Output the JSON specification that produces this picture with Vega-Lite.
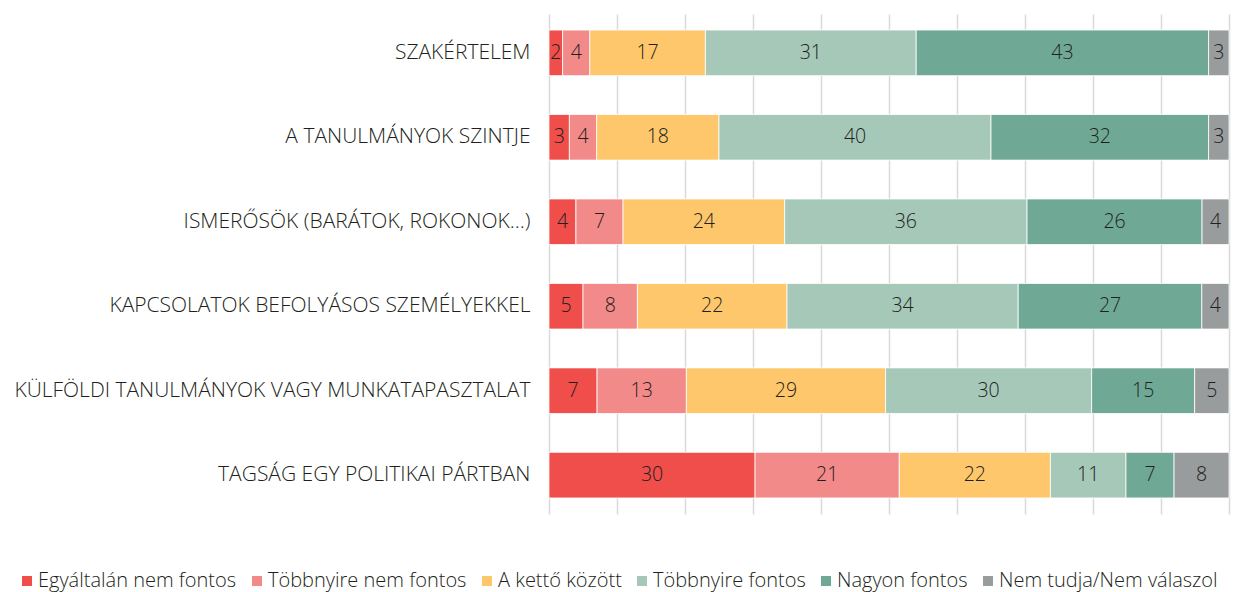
{
  "$schema": "https://vega.github.io/schema/vega-lite/v6.json",
  "width": 680,
  "height": 500,
  "autosize": {"type": "none"},
  "padding": {"left": 549, "top": 14, "right": 16, "bottom": 78},
  "background": "white",
  "config": {"view": {"stroke": null}, "font": "Open Sans"},
  "data": {"values": [
    {"cat": "SZAKÉRTELEM", "resp": "Egyáltalán nem fontos", "k": 1, "value": 2},
    {"cat": "SZAKÉRTELEM", "resp": "Többnyire nem fontos", "k": 2, "value": 4},
    {"cat": "SZAKÉRTELEM", "resp": "A kettő között", "k": 3, "value": 17},
    {"cat": "SZAKÉRTELEM", "resp": "Többnyire fontos", "k": 4, "value": 31},
    {"cat": "SZAKÉRTELEM", "resp": "Nagyon fontos", "k": 5, "value": 43},
    {"cat": "SZAKÉRTELEM", "resp": "Nem tudja/Nem válaszol", "k": 6, "value": 3},
    {"cat": "A TANULMÁNYOK SZINTJE", "resp": "Egyáltalán nem fontos", "k": 1, "value": 3},
    {"cat": "A TANULMÁNYOK SZINTJE", "resp": "Többnyire nem fontos", "k": 2, "value": 4},
    {"cat": "A TANULMÁNYOK SZINTJE", "resp": "A kettő között", "k": 3, "value": 18},
    {"cat": "A TANULMÁNYOK SZINTJE", "resp": "Többnyire fontos", "k": 4, "value": 40},
    {"cat": "A TANULMÁNYOK SZINTJE", "resp": "Nagyon fontos", "k": 5, "value": 32},
    {"cat": "A TANULMÁNYOK SZINTJE", "resp": "Nem tudja/Nem válaszol", "k": 6, "value": 3},
    {"cat": "ISMERŐSÖK (BARÁTOK, ROKONOK…)", "resp": "Egyáltalán nem fontos", "k": 1, "value": 4},
    {"cat": "ISMERŐSÖK (BARÁTOK, ROKONOK…)", "resp": "Többnyire nem fontos", "k": 2, "value": 7},
    {"cat": "ISMERŐSÖK (BARÁTOK, ROKONOK…)", "resp": "A kettő között", "k": 3, "value": 24},
    {"cat": "ISMERŐSÖK (BARÁTOK, ROKONOK…)", "resp": "Többnyire fontos", "k": 4, "value": 36},
    {"cat": "ISMERŐSÖK (BARÁTOK, ROKONOK…)", "resp": "Nagyon fontos", "k": 5, "value": 26},
    {"cat": "ISMERŐSÖK (BARÁTOK, ROKONOK…)", "resp": "Nem tudja/Nem válaszol", "k": 6, "value": 4},
    {"cat": "KAPCSOLATOK BEFOLYÁSOS SZEMÉLYEKKEL", "resp": "Egyáltalán nem fontos", "k": 1, "value": 5},
    {"cat": "KAPCSOLATOK BEFOLYÁSOS SZEMÉLYEKKEL", "resp": "Többnyire nem fontos", "k": 2, "value": 8},
    {"cat": "KAPCSOLATOK BEFOLYÁSOS SZEMÉLYEKKEL", "resp": "A kettő között", "k": 3, "value": 22},
    {"cat": "KAPCSOLATOK BEFOLYÁSOS SZEMÉLYEKKEL", "resp": "Többnyire fontos", "k": 4, "value": 34},
    {"cat": "KAPCSOLATOK BEFOLYÁSOS SZEMÉLYEKKEL", "resp": "Nagyon fontos", "k": 5, "value": 27},
    {"cat": "KAPCSOLATOK BEFOLYÁSOS SZEMÉLYEKKEL", "resp": "Nem tudja/Nem válaszol", "k": 6, "value": 4},
    {"cat": "KÜLFÖLDI TANULMÁNYOK VAGY MUNKATAPASZTALAT", "resp": "Egyáltalán nem fontos", "k": 1, "value": 7},
    {"cat": "KÜLFÖLDI TANULMÁNYOK VAGY MUNKATAPASZTALAT", "resp": "Többnyire nem fontos", "k": 2, "value": 13},
    {"cat": "KÜLFÖLDI TANULMÁNYOK VAGY MUNKATAPASZTALAT", "resp": "A kettő között", "k": 3, "value": 29},
    {"cat": "KÜLFÖLDI TANULMÁNYOK VAGY MUNKATAPASZTALAT", "resp": "Többnyire fontos", "k": 4, "value": 30},
    {"cat": "KÜLFÖLDI TANULMÁNYOK VAGY MUNKATAPASZTALAT", "resp": "Nagyon fontos", "k": 5, "value": 15},
    {"cat": "KÜLFÖLDI TANULMÁNYOK VAGY MUNKATAPASZTALAT", "resp": "Nem tudja/Nem válaszol", "k": 6, "value": 5},
    {"cat": "TAGSÁG EGY POLITIKAI PÁRTBAN", "resp": "Egyáltalán nem fontos", "k": 1, "value": 30},
    {"cat": "TAGSÁG EGY POLITIKAI PÁRTBAN", "resp": "Többnyire nem fontos", "k": 2, "value": 21},
    {"cat": "TAGSÁG EGY POLITIKAI PÁRTBAN", "resp": "A kettő között", "k": 3, "value": 22},
    {"cat": "TAGSÁG EGY POLITIKAI PÁRTBAN", "resp": "Többnyire fontos", "k": 4, "value": 11},
    {"cat": "TAGSÁG EGY POLITIKAI PÁRTBAN", "resp": "Nagyon fontos", "k": 5, "value": 7},
    {"cat": "TAGSÁG EGY POLITIKAI PÁRTBAN", "resp": "Nem tudja/Nem válaszol", "k": 6, "value": 8}
  ]},
  "encoding": {
    "y": {
      "field": "cat", "type": "nominal",
      "sort": ["SZAKÉRTELEM", "A TANULMÁNYOK SZINTJE", "ISMERŐSÖK (BARÁTOK, ROKONOK…)", "KAPCSOLATOK BEFOLYÁSOS SZEMÉLYEKKEL", "KÜLFÖLDI TANULMÁNYOK VAGY MUNKATAPASZTALAT", "TAGSÁG EGY POLITIKAI PÁRTBAN"],
      "scale": {"paddingInner": 0.46, "paddingOuter": 0.19},
      "axis": {"title": null, "domain": false, "ticks": false, "labelPadding": 19, "labelFontSize": 21, "labelFontWeight": 350, "labelColor": "#231F20", "labelLimit": 600}
    }
  },
  "layer": [
    {
      "mark": {"type": "bar", "stroke": "white", "strokeWidth": 0.8},
      "encoding": {
        "x": {
          "field": "value", "type": "quantitative", "stack": "normalize",
          "scale": {"domain": [0, 1], "nice": false},
          "axis": {"title": null, "labels": false, "ticks": false, "domain": false, "values": [0, 0.1, 0.2, 0.3, 0.4, 0.5, 0.6, 0.7, 0.8, 0.9, 1], "grid": true, "gridColor": "#D9D9D9", "gridWidth": 1.5}
        },
        "color": {
          "field": "resp", "type": "nominal",
          "scale": {
            "domain": ["Egyáltalán nem fontos", "Többnyire nem fontos", "A kettő között", "Többnyire fontos", "Nagyon fontos", "Nem tudja/Nem válaszol"],
            "range": ["#EF4E4A", "#F38A8A", "#FFC76B", "#A6C8B9", "#6FA996", "#999C9D"]
          },
          "legend": {
            "title": null, "orient": "none", "direction": "horizontal", "columns": 6,
            "legendX": -532, "legendY": 557,
            "symbolType": "square", "symbolSize": 100, "symbolStrokeWidth": 0,
            "labelFontSize": 20, "labelFontWeight": 350, "labelColor": "#231F20", "labelOffset": 1, "columnPadding": 10, "labelLimit": 400
          }
        },
        "order": {"field": "k", "type": "quantitative"}
      }
    },
    {
      "mark": {"type": "text", "fontSize": 19.5, "fontWeight": 350, "color": "#231F20"},
      "encoding": {
        "x": {"field": "value", "type": "quantitative", "stack": "normalize", "bandPosition": 0.5},
        "detail": {"field": "resp", "type": "nominal"},
        "order": {"field": "k", "type": "quantitative"},
        "text": {"field": "value", "type": "quantitative"}
      }
    }
  ]
}
